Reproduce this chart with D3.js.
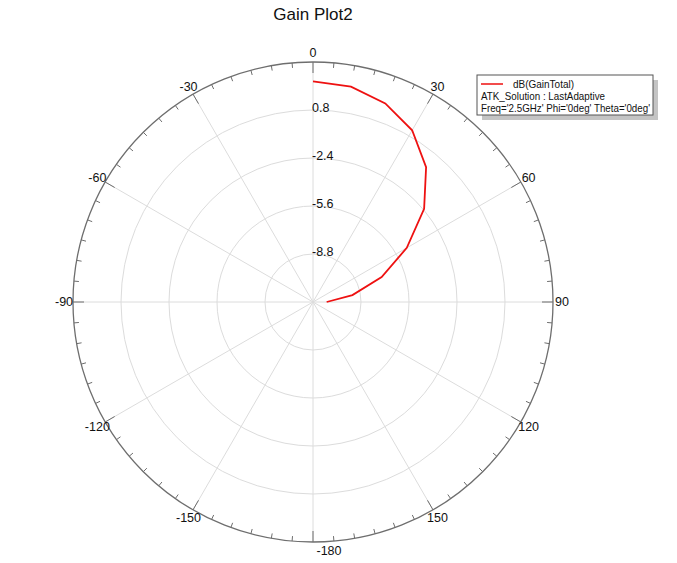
<!DOCTYPE html>
<html>
<head>
<meta charset="utf-8">
<script src="https://cdn.jsdelivr.net/npm/d3@7"></script>
<style>
  html, body { margin: 0; padding: 0; background: #fff; }
  svg { display: block; font-family: "Liberation Sans", Arial, sans-serif; }
</style>
</head>
<body>
<svg id="chart" width="677" height="563"></svg>
<script>
// ---- data ----
const thetaDeg = [0, 10, 20, 30, 40, 50, 60, 70, 80, 90];
const gainDb   = [2.71, 2.58, 2.09, 1.22, -0.27, -2.33, -4.78, -7.13, -9.33, -11.09];
const ringValues = [0.8, -2.4, -5.6, -8.8];
const angleLabels = [0, 30, 60, 90, 120, 150, -180, -150, -120, -90, -60, -30];
const legendLines = ["dB(GainTotal)", "ATK_Solution : LastAdaptive", "Freq='2.5GHz' Phi='0deg' Theta='0deg'"];
const titleText = "Gain Plot2";

// ---- layout ----
const svg = d3.select("#chart");
const cx = 313, cy = 302, R = 240;
const rMin = -12, rMax = 4;

const r = d3.scaleLinear().domain([rMin, rMax]).range([0, R]);
const a = d3.scaleLinear().domain([0, 360]).range([0, 2 * Math.PI]);

svg.append("text")
  .attr("x", cx).attr("y", 20)
  .attr("text-anchor", "middle")
  .attr("font-size", 17)
  .attr("fill", "#111")
  .text(titleText);

const g = svg.append("g").attr("transform", `translate(${cx},${cy})`);

// grid rings
const ringAll = d3.range(rMin + 3.2, rMax, 3.2);
g.selectAll("circle.ring").data(ringAll).join("circle")
  .attr("r", d => r(d))
  .attr("fill", "none").attr("stroke", "#dcdcdc").attr("stroke-width", 1);

// spokes
const spokes = d3.range(0, 360, 30);
g.selectAll("line.spoke").data(spokes).join("line")
  .attr("x1", 0).attr("y1", 0)
  .attr("x2", d => R * Math.sin(a(d)))
  .attr("y2", d => -R * Math.cos(a(d)))
  .attr("stroke", "#dcdcdc").attr("stroke-width", 1);

// outer circle
g.append("circle").attr("r", R).attr("fill", "none")
  .attr("stroke", "#6e6e6e").attr("stroke-width", 1.3);

// ticks
const ticks = d3.range(0, 360, 5);
g.selectAll("line.tick").data(ticks).join("line")
  .attr("x1", d => R * Math.sin(a(d)))
  .attr("y1", d => -R * Math.cos(a(d)))
  .attr("x2", d => (R - (d % 30 === 0 ? 11 : 5)) * Math.sin(a(d)))
  .attr("y2", d => -(R - (d % 30 === 0 ? 11 : 5)) * Math.cos(a(d)))
  .attr("stroke", "#6e6e6e").attr("stroke-width", 1);

// angle labels
g.selectAll("text.alab").data(angleLabels).join("text")
  .attr("x", d => 249 * Math.sin(a(d)) + (d === -180 ? 16 : 0))
  .attr("y", d => -249 * Math.cos(a(d)))
  .attr("dy", "0.35em")
  .attr("text-anchor", "middle")
  .attr("font-size", 12.5)
  .attr("fill", "#111")
  .text(d => d);

// ring labels
g.selectAll("text.rlab").data(ringValues).join("text")
  .attr("x", -1)
  .attr("y", d => -r(d) + 2)
  .attr("font-size", 12.5)
  .attr("fill", "#111")
  .text(d => d);

// data line
const pts = thetaDeg.map((t, i) => [a(t), r(gainDb[i])]);
g.append("path")
  .attr("d", d3.lineRadial()(pts))
  .attr("fill", "none").attr("stroke", "#ee1111").attr("stroke-width", 1.8);

// legend
const lx = 477, ly = 75, lw = 176, lh = 40;
svg.append("rect").attr("x", lx + 5).attr("y", ly + 5).attr("width", lw).attr("height", lh)
  .attr("fill", "#c4c4c4");
svg.append("rect").attr("x", lx).attr("y", ly).attr("width", lw).attr("height", lh)
  .attr("fill", "#fff").attr("stroke", "#555").attr("stroke-width", 1);
svg.append("line").attr("x1", lx + 4).attr("x2", lx + 26).attr("y1", ly + 9).attr("y2", ly + 9)
  .attr("stroke", "#ee1111").attr("stroke-width", 1.5);
const legX = [lx + 36, lx + 4, lx + 4];
const legW = [61, 124, 169];
svg.selectAll("text.leg").data(legendLines).join("text")
  .attr("x", (d, i) => legX[i])
  .attr("y", (d, i) => ly + 13 + i * 12)
  .attr("font-size", 11)
  .attr("textLength", (d, i) => legW[i])
  .attr("lengthAdjust", "spacingAndGlyphs")
  .attr("fill", "#111")
  .text(d => d);
</script>
</body>
</html>
